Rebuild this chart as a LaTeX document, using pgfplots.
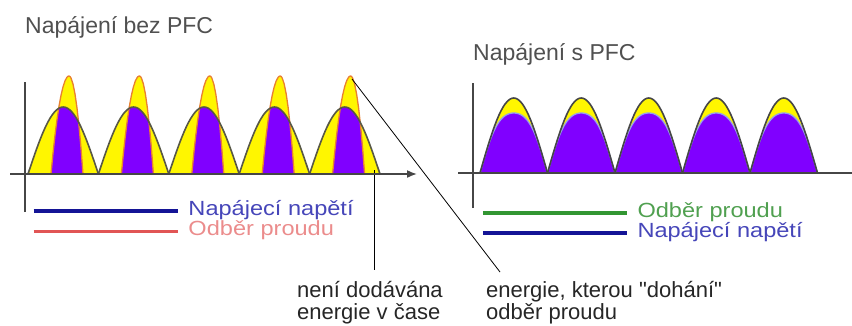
\documentclass[border=0pt]{standalone}
\usepackage{pgfplots}
\pgfplotsset{compat=1.18}
\usepackage{pgfplotstable}
\usetikzlibrary{arrows.meta}
\usepackage{fontspec}
\setmainfont{Liberation Sans}
% same face without the TeX quote mapping, for straight quotes
\newfontfamily\plainfont{Liberation Sans}
% slightly widened face for the legend entries
\newfontfamily\legfont[FakeStretch=1.15]{Liberation Sans}

\definecolor{violetfill}{RGB}{128,0,255}
\definecolor{yellowfill}{RGB}{255,246,0}
\definecolor{voltline}{RGB}{88,88,70}
\definecolor{currline}{RGB}{232,128,48}
\definecolor{pfcline}{RGB}{150,160,235}
\definecolor{axisgray}{RGB}{70,70,70}
\definecolor{titlegray}{RGB}{80,80,80}
\definecolor{legblue}{RGB}{20,20,150}
\definecolor{legred}{RGB}{225,85,85}
\definecolor{leggreen}{RGB}{50,150,50}
\definecolor{txtblue}{RGB}{70,70,185}
\definecolor{txtpink}{RGB}{235,140,140}
\definecolor{txtgreen}{RGB}{80,160,80}

% one half-wave of the rectified mains voltage (without PFC)
\pgfplotstableread{
x y
0 0
2.2 6.57
4.4 13.07
6.6 19.45
8.8 25.64
11 31.58
13.2 37.23
15.4 42.50
17.6 47.38
19.8 51.79
22 55.71
24.2 59.09
26.4 61.90
28.6 64.11
30.8 65.71
33 66.68
35.2 67.00
37.4 66.68
39.6 65.71
41.8 64.11
44 61.90
46.2 59.09
48.4 55.71
50.6 51.79
52.8 47.38
55 42.50
57.2 37.23
59.4 31.58
61.6 25.64
63.8 19.45
66 13.07
68.2 6.57
70.4 0
}\volthalf

% the narrow current pulse drawn by the capacitor input
\pgfplotstableread{
x y
23 0
25 20.6
27 38.7
29 54.4
31 67.8
33 78.6
35 87.1
37 93.2
39 96.8
40 97.7
41 98
42 97.5
43 96.0
45 90.0
47 80.0
49 66.0
51 48.0
53 26.0
55 0
}\currpulse

% energy actually delivered: lower of the two curves
\pgfplotstableread{
x y
23 0
25 20.6
27 38.7
29 54.4
30.65 65.6
30.8 65.71
33 66.68
35.2 67.00
37.4 66.68
39.6 65.71
41.8 64.11
44 61.90
46.2 59.09
48.4 55.71
50.6 51.8
51 48.0
53 26.0
55 0
}\delivered

% with PFC: voltage v and current i of one half-wave
\pgfplotstableread{
x v i
0 0 0
2.11 7.35 7.34
4.22 14.63 14.52
6.33 21.77 21.40
8.44 28.70 27.86
10.55 35.36 33.79
12.66 41.67 39.10
14.77 47.58 43.75
16.88 53.03 47.73
18.98 57.98 51.05
21.09 62.36 53.74
23.20 66.14 55.85
25.31 69.29 57.46
27.42 71.77 58.63
29.53 73.56 59.41
31.64 74.64 59.85
33.75 75.00 60.00
35.86 74.64 59.85
37.97 73.56 59.41
40.08 71.77 58.63
42.19 69.29 57.46
44.30 66.14 55.85
46.41 62.36 53.74
48.52 57.98 51.05
50.63 53.03 47.73
52.73 47.58 43.75
54.84 41.67 39.10
56.95 35.36 33.79
59.06 28.70 27.86
61.17 21.77 21.40
63.28 14.63 14.52
65.39 7.35 7.34
67.5 0 0
}\pfchalf

\pgfplotsset{
  panel/.style={
    scale only axis, axis lines=middle, xtick=\empty, ytick=\empty,
    axis on top, clip=false, anchor=origin,
    axis line style={-, axisgray, line width=1.6pt},
    legend cell align=left,
    legend style={draw=none, fill=none, inner sep=0pt, outer sep=0pt,
      font=\legfont\fontsize{20.5}{20.5}\selectfont, row sep=2pt,
      nodes={inner sep=0pt, text height=13pt, text depth=5pt},
      column sep=9pt},
  },
  longline/.style={legend image code/.code={\draw[##1] (0pt,0pt) -- (144pt,0pt);}},
}

\begin{document}
\begin{tikzpicture}
\path[use as bounding box] (0pt,0pt) rectangle (852pt,-325pt);

% ---------- without PFC ----------
\begin{axis}[panel, at={(25pt,-174pt)},
  xmin=-15, xmax=392, ymin=-38, ymax=92,
  width=407pt, height=130pt,
  x axis line style={-{Latex[length=10pt,width=8pt]}},
  legend style={at={(axis cs:7,-47)}, anchor=west}, longline]
\pgfplotsinvokeforeach{0,...,4}{
  \addplot[fill=yellowfill, draw=none, forget plot] table[x expr=\thisrow{x}+3+70.4*#1, y=y] {\volthalf} \closedcycle;
  \addplot[fill=yellowfill, draw=none, forget plot] table[x expr=\thisrow{x}+3+70.4*#1, y=y] {\currpulse} \closedcycle;
  \addplot[fill=violetfill, draw=none, forget plot] table[x expr=\thisrow{x}+3+70.4*#1, y=y] {\delivered} \closedcycle;
  \addplot[currline, line width=1.3pt, forget plot] table[x expr=\thisrow{x}+3+70.4*#1, y=y] {\currpulse};
  \addplot[voltline, line width=1.6pt, forget plot] table[x expr=\thisrow{x}+3+70.4*#1, y=y] {\volthalf};
}
\addlegendimage{legblue, line width=3.5pt}
\addlegendentry{\textcolor{txtblue}{Napájecí napětí}}
\addlegendimage{legred, line width=3pt}
\addlegendentry{\textcolor{txtpink}{Odběr proudu}}
% pointers to the labels below
\draw[black, line width=0.9pt] (axis cs:349,4) -- (axis cs:349,-96);
\draw[black, line width=0.8pt] (axis cs:327,95) -- (axis cs:475,-98);
\end{axis}

% ---------- with PFC ----------
\begin{axis}[panel, at={(473pt,-173pt)},
  xmin=-15, xmax=379, ymin=-35, ymax=90,
  width=394pt, height=125pt,
  legend style={at={(axis cs:8,-50)}, anchor=west}, longline]
\pgfplotsinvokeforeach{0,...,4}{
  \addplot[fill=yellowfill, draw=none, forget plot] table[x expr=\thisrow{x}+7+67.5*#1, y=v] {\pfchalf} \closedcycle;
  \addplot[fill=violetfill, draw=none, forget plot] table[x expr=\thisrow{x}+7+67.5*#1, y=i] {\pfchalf} \closedcycle;
  \addplot[pfcline, line width=1.3pt, forget plot] table[x expr=\thisrow{x}+7+67.5*#1, y=i] {\pfchalf};
  \addplot[axisgray, line width=1.6pt, forget plot] table[x expr=\thisrow{x}+7+67.5*#1, y=v] {\pfchalf};
}
\addlegendimage{leggreen, line width=3.5pt}
\addlegendentry{\textcolor{txtgreen}{Odběr proudu}}
\addlegendimage{legblue, line width=3.5pt}
\addlegendentry{\textcolor{txtblue}{Napájecí napětí}}
\end{axis}

% ---------- titles and notes ----------
\begin{scope}[every node/.style={anchor=base west, inner sep=0pt, font=\fontsize{22}{22}\selectfont}]
\node[text=titlegray, font=\fontsize{23}{23}\selectfont] at (25pt,-33pt) {Napájení bez PFC};
\node[text=titlegray, font=\fontsize{23}{23}\selectfont] at (473pt,-60pt) {Napájení s PFC};
\node[text=black!85] at (297pt,-297pt) {není dodávána};
\node[text=black!85] at (297pt,-319pt) {energie v čase};
\node[text=black!85] at (486pt,-297pt) {\plainfont energie, kterou "dohání"};
\node[text=black!85] at (486pt,-319pt) {odběr proudu};
\end{scope}
\end{tikzpicture}
\end{document}
